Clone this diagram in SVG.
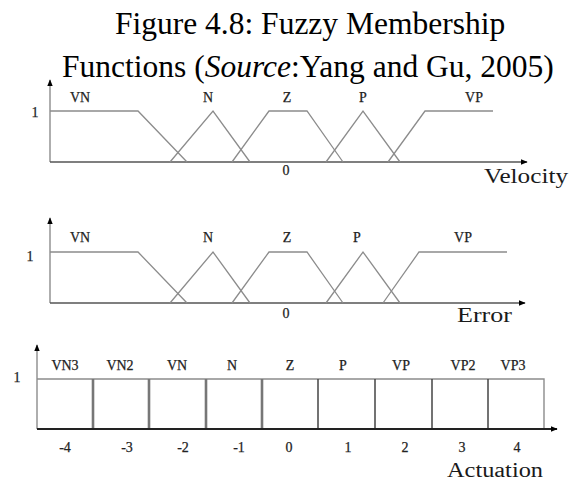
<svg xmlns="http://www.w3.org/2000/svg" width="570" height="480" viewBox="0 0 570 480">
  <style>
    .title { font-family: "Liberation Serif", "Times New Roman", serif; font-size: 31.5px; fill: #000; }
    .lbl { font-family: "Liberation Serif", "Times New Roman", serif; font-size: 14px; fill: #222; stroke: #222; stroke-width: 0.25; text-anchor: middle; }
    .axname { font-family: "Liberation Serif", "Times New Roman", serif; font-size: 20px; fill: #1a1a1a; }
    .axis { stroke: #8c8c8c; stroke-width: 1.4; fill: none; }
    .base { stroke: #555; stroke-width: 1.6; fill: none; }
    .mf { stroke: #8c8c8c; stroke-width: 1.3; fill: none; }
    .div-l { stroke: #777; stroke-width: 2.6; }
    .div-r { stroke: #444; stroke-width: 1.5; }
  </style>
  <defs>
    <marker id="tip" viewBox="0 0 10 10" refX="9" refY="5" markerWidth="7" markerHeight="7" markerUnits="userSpaceOnUse" orient="auto">
      <path d="M0,1 L10,5 L0,9 Z" fill="#000"/>
    </marker>
  </defs>

  <rect width="570" height="480" fill="#fff"/>

  <!-- caption -->
  <g id="title">
    <text class="title" x="115" y="34">Figure 4.8: Fuzzy Membership</text>
    <text class="title" x="62" y="77">Functions (<tspan font-style="italic">Source</tspan>:Yang and Gu, 2005)</text>
  </g>

  <!-- velocity membership functions -->
  <g id="velocity-plot">
    <line class="axis" x1="50" y1="162" x2="50" y2="80" marker-end="url(#tip)"/>
    <line class="base" x1="50" y1="162" x2="527" y2="162" marker-end="url(#tip)"/>
    <polyline class="mf" points="50,111 138,111 187,162"/>
    <polyline class="mf" points="170,162 213,111 250,162"/>
    <polyline class="mf" points="232,162 269,111 307,111 343,162"/>
    <polyline class="mf" points="326,162 363,111 400,162"/>
    <polyline class="mf" points="388,162 425,111 493,111"/>
    <text class="lbl" x="35" y="117">1</text>
    <text class="lbl" x="80" y="102">VN</text>
    <text class="lbl" x="208" y="102">N</text>
    <text class="lbl" x="287" y="102">Z</text>
    <text class="lbl" x="363" y="102">P</text>
    <text class="lbl" x="474" y="102">VP</text>
    <text class="lbl" x="286" y="175">0</text>
    <text class="axname" x="484" y="183" textLength="84" lengthAdjust="spacingAndGlyphs">Velocity</text>
  </g>

  <!-- error membership functions -->
  <g id="error-plot">
    <line class="axis" x1="50" y1="303" x2="50" y2="218" marker-end="url(#tip)"/>
    <line class="base" x1="50" y1="303" x2="525" y2="303" marker-end="url(#tip)"/>
    <polyline class="mf" points="50,252 138,252 187,303"/>
    <polyline class="mf" points="170,303 213,252 250,303"/>
    <polyline class="mf" points="232,303 269,252 307,252 343,303"/>
    <polyline class="mf" points="326,303 363,252 400,303"/>
    <polyline class="mf" points="383,303 419,252 507,252"/>
    <text class="lbl" x="30" y="261">1</text>
    <text class="lbl" x="80" y="242">VN</text>
    <text class="lbl" x="208" y="242">N</text>
    <text class="lbl" x="287" y="242">Z</text>
    <text class="lbl" x="357" y="242">P</text>
    <text class="lbl" x="463" y="242">VP</text>
    <text class="lbl" x="286" y="318">0</text>
    <text class="axname" x="457" y="322" textLength="55" lengthAdjust="spacingAndGlyphs">Error</text>
  </g>

  <!-- actuation singletons -->
  <g id="actuation-plot">
    <line class="axis" x1="37" y1="429" x2="37" y2="345" marker-end="url(#tip)"/>
    <polyline class="axis" points="37,379 544,379 544,429"/>
    <line class="div-l" x1="93" y1="379" x2="93" y2="429"/>
    <line class="div-l" x1="149" y1="379" x2="149" y2="429"/>
    <line class="div-l" x1="206" y1="379" x2="206" y2="429"/>
    <line class="div-l" x1="262" y1="379" x2="262" y2="429"/>
    <line class="div-r" x1="318" y1="379" x2="318" y2="429"/>
    <line class="div-r" x1="375" y1="379" x2="375" y2="429"/>
    <line class="div-r" x1="432" y1="379" x2="432" y2="429"/>
    <line class="div-r" x1="488" y1="379" x2="488" y2="429"/>
    <line x1="37" y1="429" x2="557" y2="429" stroke="#222" stroke-width="2" marker-end="url(#tip)"/>
    <text class="lbl" x="17" y="382">1</text>
    <text class="lbl" x="65" y="370">VN3</text>
    <text class="lbl" x="120" y="370">VN2</text>
    <text class="lbl" x="177" y="370">VN</text>
    <text class="lbl" x="232" y="370">N</text>
    <text class="lbl" x="290" y="370">Z</text>
    <text class="lbl" x="343" y="370">P</text>
    <text class="lbl" x="401" y="370">VP</text>
    <text class="lbl" x="463" y="370">VP2</text>
    <text class="lbl" x="513" y="370">VP3</text>
    <text class="lbl" x="65" y="452">-4</text>
    <text class="lbl" x="127" y="452">-3</text>
    <text class="lbl" x="183" y="452">-2</text>
    <text class="lbl" x="239" y="452">-1</text>
    <text class="lbl" x="289" y="452">0</text>
    <text class="lbl" x="348" y="452">1</text>
    <text class="lbl" x="405" y="452">2</text>
    <text class="lbl" x="462" y="452">3</text>
    <text class="lbl" x="517" y="452">4</text>
    <text class="axname" x="447" y="477" textLength="96" lengthAdjust="spacingAndGlyphs">Actuation</text>
  </g>
</svg>
